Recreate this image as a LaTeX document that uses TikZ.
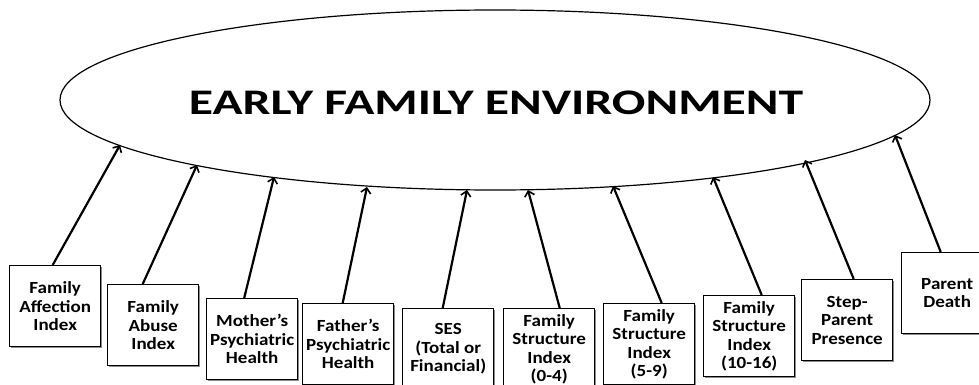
\documentclass[tikz,border=0pt]{standalone}
\usepackage{fontspec}
\setmainfont{Carlito}
\newfontfamily\titlefont[FakeStretch=1.38]{Carlito}
\newfontfamily\boxfont[FakeStretch=1.12]{Carlito}
\usetikzlibrary{arrows.meta,shapes.geometric,shadows}
\begin{document}
\begin{tikzpicture}[x=1pt,y=-1pt,
  box/.style={draw, line width=1.4pt, rectangle, minimum width=91pt, minimum height=81pt,
    inner sep=0pt, align=center, font=\boxfont\bfseries\fontsize{17}{18.5}\selectfont,
    anchor=north west, fill=white,
    drop shadow={shadow xshift=1pt, shadow yshift=-1pt, opacity=0.45, fill=black}},
  link/.style={line width=2.2pt, -{Straight Barb[length=5pt,width=10pt,line width=1.6pt]}}]
\useasboundingbox (0,0) rectangle (979,385);
\clip (0,0) rectangle (979,385);
\node[ellipse, draw, line width=1.2pt, minimum width=870pt, minimum height=180pt, inner sep=0pt] (E) at (495,100) {};
\node[font=\titlefont\bfseries\fontsize{36}{40}\selectfont, inner sep=0pt, anchor=base] (T) at (496,114.5) {EARLY FAMILY ENVIRONMENT};

\node[box] (b1) at (9,265) {Family\\Affection\\Index};
\node[box] (b2) at (107,284) {Family\\Abuse\\Index};
\node[box] (b3) at (206,298) {Mother’s\\Psychiatric\\Health};
\node[box] (b4) at (302,303) {Father’s\\Psychiatric\\Health};
\node[box] (b5) at (402,308) {SES\\(Total or\\Financial)};
\node[box] (b6) at (503,308) {Family\\Structure\\Index\\(0-4)};
\node[box] (b7) at (603,303) {Family\\Structure\\Index\\(5-9)};
\node[box] (b8) at (703,295) {Family\\Structure\\Index\\(10-16)};
\node[box] (b9) at (801,279) {Step-\\Parent\\Presence};
\node[box] (b10) at (901,252) {Parent\\Death};

\coordinate (t1) at (120,145);
\coordinate (t2) at (197,165);
\coordinate (t3) at (274,177);
\coordinate (t4) at (367,187);
\coordinate (t5) at (467,190);
\coordinate (t6) at (528,190);
\coordinate (t7) at (613,186);
\coordinate (t8) at (713,177);
\coordinate (t9) at (805,160);
\coordinate (t10) at (895,135);

\draw[link] ([xshift=-2.5pt]b1.north) -- (t1);
\draw[link] ([xshift=-10.5pt]b2.north) -- (t2);
\draw[link] ([xshift=-8pt]b3.north) -- (t3);
\draw[link] ([xshift=-5.5pt]b4.north) -- (t4);
\draw[link] ([xshift=-5.5pt]b5.north) -- (t5);
\draw[link] ([xshift=10.5pt]b6.north) -- (t6);
\draw[link] ([xshift=12.5pt]b7.north) -- (t7);
\draw[link] ([xshift=12.5pt]b8.north) -- (t8);
\draw[link] ([xshift=6.5pt]b9.north) -- (t9);
\draw[link] ([xshift=-6.5pt]b10.north) -- (t10);
\end{tikzpicture}
\end{document}
